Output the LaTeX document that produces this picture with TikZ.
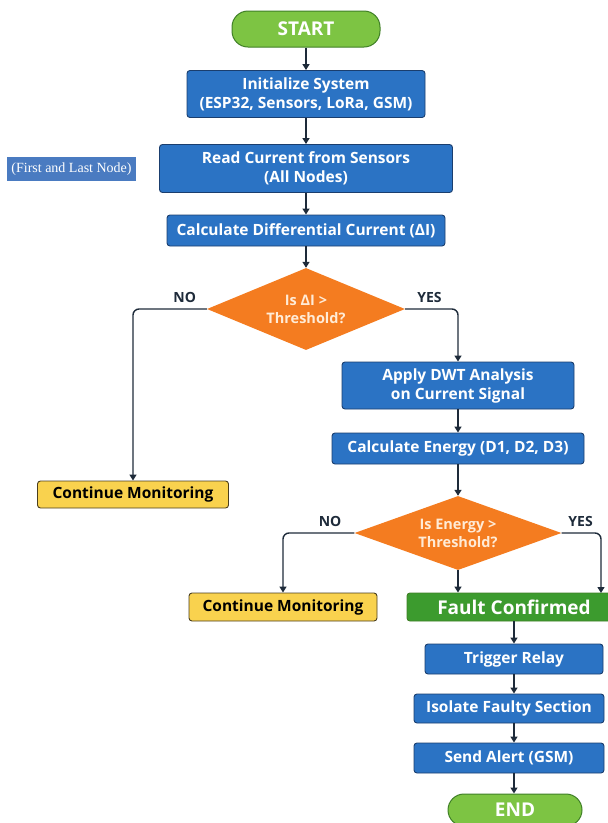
\documentclass[tikz,border=0pt]{standalone}
\usepackage{fontspec}
\IfFontExistsTF{Open Sans SemiBold}
  {\setmainfont{Open Sans}[BoldFont={Open Sans SemiBold}]}
  {\setmainfont{Open Sans}}
\newfontfamily\notefont{Liberation Serif}
\usetikzlibrary{arrows.meta,shapes.geometric}

\definecolor{boxblue}{HTML}{2B73C4}
\definecolor{boxline}{HTML}{1A3E6E}
\definecolor{startgreen}{HTML}{7DC443}
\definecolor{startline}{HTML}{3F7F26}
\definecolor{faultgreen}{HTML}{3C9B2E}
\definecolor{decorange}{HTML}{F47C20}
\definecolor{decotext}{HTML}{FFEBD6}
\definecolor{waityellow}{HTML}{F9D24E}
\definecolor{waitline}{HTML}{4A3E1E}
\definecolor{flowline}{HTML}{1E2B3A}
\definecolor{noteblue}{HTML}{4A7BC1}

\begin{document}
\begin{tikzpicture}[x=1pt,y=-1pt,>={Triangle[length=6pt,width=7pt]}]
        \tikzstyle{terminal}=[draw=startline,line width=1pt,fill=startgreen,rounded corners=16pt,
                              text=white,font=\bfseries\fontsize{19}{22}\selectfont]
        \tikzstyle{process}=[draw=boxline,line width=0.9pt,fill=boxblue,rounded corners=3pt,inner sep=0pt,
                             text=white,align=center,font=\bfseries\fontsize{15.5}{19}\selectfont]
        \tikzstyle{decision}=[diamond,fill=decorange,inner sep=0pt,text=decotext,align=center,
                              font=\bfseries\fontsize{14.5}{18}\selectfont]
        \tikzstyle{wait}=[draw=waitline,line width=0.9pt,fill=waityellow,rounded corners=3pt,inner sep=0pt,
                          font=\bfseries\fontsize{15.5}{18}\selectfont]
        \tikzstyle{fault}=[draw=startline,line width=0.9pt,fill=faultgreen,rounded corners=3pt,inner sep=0pt,
                           text=white,font=\bfseries\fontsize{19}{22}\selectfont]
        \tikzstyle{note}=[fill=noteblue,text=white,minimum width=129pt,minimum height=24pt,inner sep=0pt,
                          font=\notefont\fontsize{14}{16}\selectfont]
        \tikzstyle{branch}=[font=\bfseries\fontsize{14}{16}\selectfont,above=2pt]
        \tikzstyle{flow}=[color=flowline,line width=1.4pt,rounded corners=6pt]
        \tikzstyle{elbow}=[to path={-| (\tikztotarget) \tikztonodes}]

        \useasboundingbox (0,0) rectangle (608,823);

        \node[terminal,minimum width=148pt,minimum height=36pt] (start) at (306,29) {START};
        \node[process,minimum width=238pt,minimum height=47pt]  (init)  [below of=start,node distance=65pt]
              {Initialize System\\(ESP32, Sensors, LoRa, GSM)};
        \node[process,minimum width=293pt,minimum height=48pt]  (read)  [below of=init,node distance=74.5pt]
              {Read Current from Sensors\\(All Nodes)};
        \node[note]                                             (where) at (71.5,169) {(First and Last Node)};
        \node[process,minimum width=278pt,minimum height=31pt]  (diff)  [below of=read,node distance=62pt]
              {Calculate Differential Current (ΔI)};
        \node[decision,aspect=2.4,minimum width=198pt,minimum height=82pt] (chk1) [below of=diff,node distance=78.5pt]
              {Is ΔI >\\Threshold?}; % first test
        \node[wait,minimum width=191pt,minimum height=27pt]     (mon1)  at (133,494.5) {Continue Monitoring};
        \node[process,minimum width=232pt,minimum height=47pt]  (dwt)   at (458,385.5)
              {Apply DWT Analysis\\on Current Signal};
        \node[process,minimum width=252pt,minimum height=31pt]  (energy) [below of=dwt,node distance=63pt]
              {Calculate Energy (D1, D2, D3)};
        \node[decision,aspect=2.8,minimum width=207pt,minimum height=74pt] (chk2) [below of=energy,node distance=84.5pt]
              {Is Energy >\\Threshold?}; % second test
        \node[wait,minimum width=188pt,minimum height=28pt]     (mon2)  at (283,607) {Continue Monitoring};
        \node[fault,minimum width=214pt,minimum height=28pt]    (fault) at (514,607) {Fault Confirmed};
        \coordinate                                             (fyes)  at (601,593);
        \node[process,minimum width=178pt,minimum height=30pt]  (relay) [below of=fault,node distance=52pt] {Trigger Relay};
        \node[process,minimum width=190pt,minimum height=29pt]  (isolate) at (509,708.5) {Isolate Faulty Section};
        \node[process,minimum width=190pt,minimum height=30pt]  (alert) at (509,758) {Send Alert (GSM)};
        \node[terminal,minimum width=134pt,minimum height=32pt] (stop)  at (515,810) {END};

        \path[->,flow]
                  (start) edge (init)
                  (init)  edge (read)
                  (read)  edge (diff)
                  (diff)  edge (chk1)
                  (chk1.west) edge [elbow] node [branch,pos=0.15] {NO}  (mon1.north)
                  (chk1.east) edge [elbow] node [branch,pos=0.23] {YES} (dwt.north)
                  (dwt)    edge (energy)
                  (energy) edge (chk2)
                  (chk2.west) edge [elbow] node [branch,pos=0.17] {NO}  (mon2.north)
                  (chk2.east) edge [elbow] node [branch,pos=0.24] {YES} (fyes)
                  (chk2.south) edge (chk2.south |- fault.north)
                  (fault) edge (relay)
                  (relay) edge (isolate.north -| relay.south)
                  (isolate.south -| relay.south) edge (alert.north -| relay.south)
                  (alert.south -| relay.south)   edge (stop.north -| relay.south);
\end{tikzpicture}
\end{document}
